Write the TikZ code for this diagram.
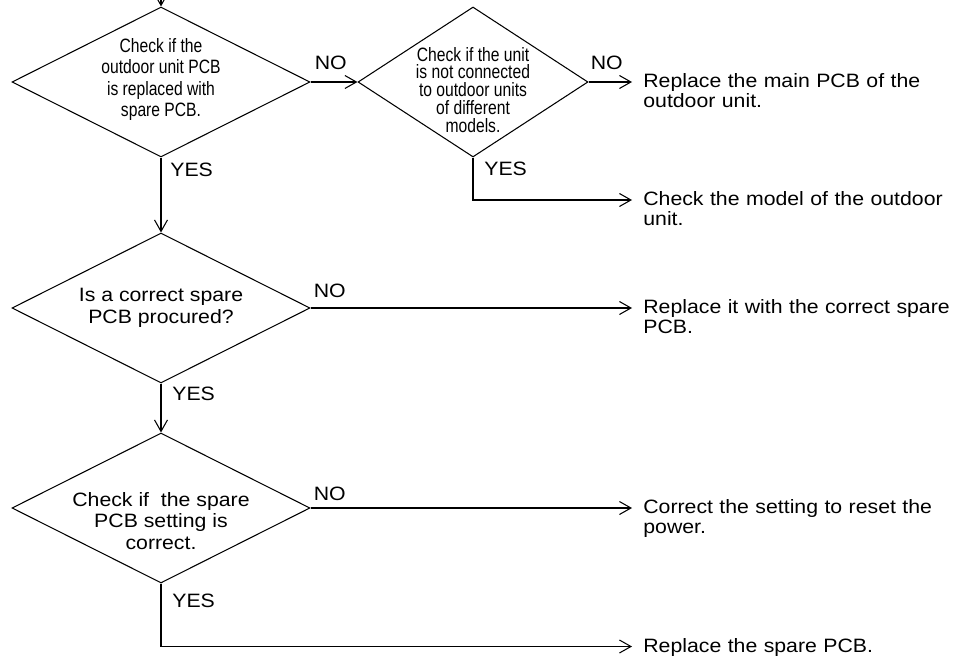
\documentclass[tikz,border=0pt]{standalone}
\usepackage{fontspec}
\setmainfont{Liberation Sans}[FakeStretch=1.1]
\newfontfamily\narrowfont{Liberation Sans}[FakeStretch=0.81]
\usetikzlibrary{positioning,arrows.meta,shapes.geometric,calc}
\tikzset{
decision/.style={
draw,
shape=diamond,
minimum width=5.96cm,
minimum height=3cm,
inner sep=0pt,
line width=0.6pt
},
dtext/.style={
align=center,
inner sep=0pt,
font=\fontsize{11}{12.3}\selectfont
},
ntext/.style={
align=center,
inner sep=0pt,
font=\narrowfont\fontsize{11}{12.3}\selectfont
},
result/.style={
anchor=base west,
inner xsep=0.22cm,
inner ysep=0pt,
text width=6.2cm,
align=left,
font=\fontsize{11}{11.6}\selectfont
},
answer/.style={
anchor=base west,
inner sep=0pt,
font=\fontsize{11}{12}\selectfont
},
arrow/.style={
-{Straight Barb[length=2.3mm,width=2.6mm]},
line width=0.6pt
}
}

\begin{document}
\begin{tikzpicture}
\useasboundingbox (0,0) rectangle (19.2,-13.28);

\coordinate (start) at (3.22,0);
\node[decision](d1) at (3.22,-1.64){};
\node[decision,minimum width=4.6cm](d2) at (9.46,-1.64){};
\node[decision](d3) at (3.22,-6.16){};
\node[decision](d4) at (3.22,-10.16){};

\node[ntext](d1t) at ($(d1)+(0,0.05)$){Check if the\\outdoor unit PCB\\is replaced with\\spare PCB.};
\node[ntext,font=\narrowfont\fontsize{11}{10.2}\selectfont](d2t) at ($(d2)+(0,-0.16)$){Check if the unit\\is not connected\\to outdoor units\\of different\\models.};
\node[dtext](d3t) at (d3){Is a correct spare\\PCB procured?};
\node[dtext,font=\fontsize{11}{12.2}\selectfont](d4t) at ($(d4)+(0,-0.26)$){Check if \ the spare\\PCB setting is\\correct.};

\node[result](r1) at (12.64,-1.75){Replace the main PCB of the\\outdoor unit.};
\node[result](r2) at (12.64,-4.11){Check the model of the outdoor\\unit.};
\node[result](r3) at (12.64,-6.27){Replace it with the correct spare\\PCB.};
\node[result](r4) at (12.64,-10.27){Correct the setting to reset the\\power.};
\node[result](r5) at (12.64,-13.04){Replace the spare PCB.};

% answers
\node[answer](n1) at ($(d1.east)+(0.08,0.24)$){NO};
\node[answer](n2) at ($(d2.east)+(0.04,0.25)$){NO};
\node[answer](n3) at ($(d3.east)+(0.06,0.22)$){NO};
\node[answer](n4) at ($(d4.east)+(0.06,0.16)$){NO};
\node[answer](y1) at ($(d1.south)+(0.18,-0.38)$){YES};
\node[answer](y2) at ($(d2.south)+(0.22,-0.36)$){YES};
\node[answer](y3) at ($(d3.south)+(0.22,-0.34)$){YES};
\node[answer](y4) at ($(d4.south)+(0.22,-0.48)$){YES};

\draw[arrow](start)--(d1);
\foreach \x/\y in {d1/d2,d1/d3,d3/d4}
\draw[arrow](\x)--(\y);
\foreach \d/\r in {d2/r1,d3/r3,d4/r4}
\draw[arrow](\d.east)--(\d.east -| \r.west);
\draw[arrow](d2.south) |- ($(r2.base west)+(0,0.11)$);
\draw[arrow](d4.south) |- ($(r5.base west)+(0,0.11)$);
\end{tikzpicture}
\end{document}
